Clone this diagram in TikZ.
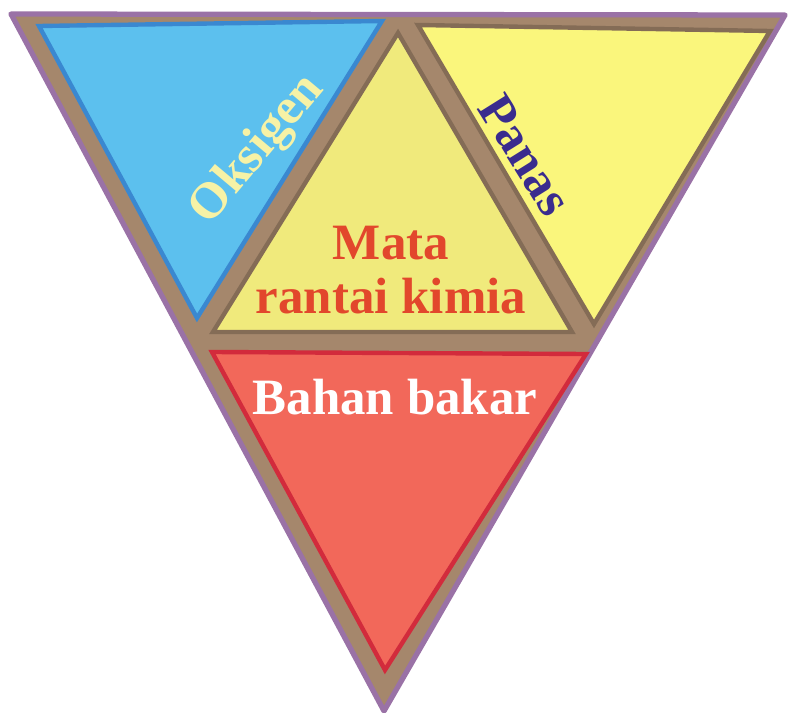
\documentclass[tikz,border=0pt]{standalone}
\usepackage{fontspec}
\setmainfont{Liberation Serif}
\usepackage{tikz}
\definecolor{rim}{HTML}{A5876C}
\definecolor{rimP}{HTML}{9A72A6}
\definecolor{oxy}{HTML}{5CC0EE}
\definecolor{oxyD}{HTML}{3A88D0}
\definecolor{chain}{HTML}{F0EA7C}
\definecolor{heat}{HTML}{FAF67C}
\definecolor{fuel}{HTML}{F2685A}
\definecolor{fuelD}{HTML}{D22B3C}
\definecolor{redtxt}{HTML}{E2472C}
\definecolor{bluetxt}{HTML}{3A2C8E}
\definecolor{paletxt}{HTML}{F6F2A6}
\tikzset{lbl/.style={font=\bfseries\fontsize{29}{31}\selectfont,inner sep=0pt},
  tri/.style={line width=2.5pt,line join=miter}}
\begin{document}
\begin{tikzpicture}[x=0.02cm,y=-0.02cm]
  \useasboundingbox (0,0) rectangle (792,713);
  % outer frame
  \draw[rimP,fill=rim,line width=3pt,line join=round] (11,14) -- (785,15) -- (384,711) -- cycle;
  % four parts
  \draw[tri,oxyD,fill=oxy] (39,26) -- (382,21) -- (197,318) -- cycle;
  \draw[tri,rim!80!black,fill=chain] (398,33) -- (572,332) -- (213,332) -- cycle;
  \draw[tri,rim!80!black,fill=heat] (418,25) -- (770,31) -- (594,324) -- cycle;
  \draw[tri,fuelD,fill=fuel] (212,352) -- (586,354) -- (385,670) -- cycle;
  % labels
  \node[lbl,text=paletxt,rotate=50] (oks) at (258,150) {Oksigen};
  \node[lbl,text=bluetxt,rotate=-58] (pan) at (525,155) {Panas};
  \node[lbl,text=redtxt,align=center] (mat) at (391,270) {Mata\\rantai kimia};
  \node[lbl,text=white] (bah) at (395,397) {Bahan bakar};
\end{tikzpicture}
\end{document}
